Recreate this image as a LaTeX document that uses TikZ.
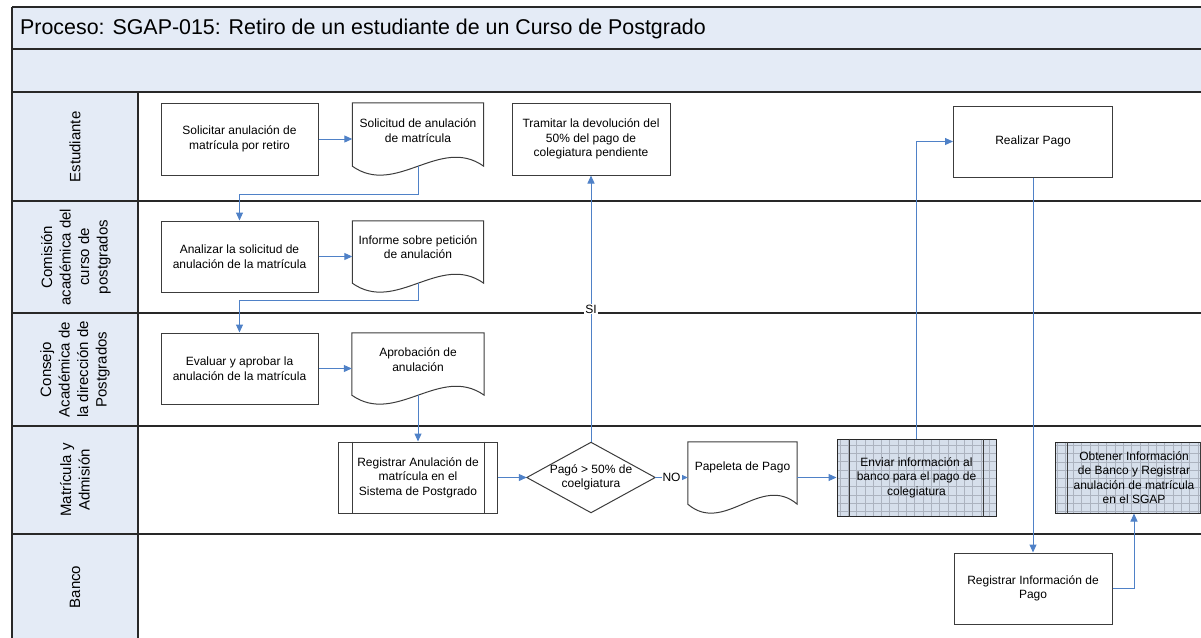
\documentclass[tikz,border=0pt]{standalone}
\usepackage{fontspec}
\setmainfont{Liberation Sans}
\usetikzlibrary{arrows.meta,calc}
\definecolor{band}{RGB}{228,235,246}
\definecolor{conn}{RGB}{79,129,199}
\definecolor{gfill}{RGB}{214,223,235}
\definecolor{gline}{RGB}{172,179,191}
\definecolor{bord}{RGB}{60,60,60}
\definecolor{frm}{RGB}{40,40,40}
\newcommand\docoutline[1]{%
  \draw[docline] (#1.north west) -- (#1.north east) -- ($(#1.south east)+(0,-9)$)
    .. controls ($(#1.south east)!0.333!(#1.south west)+(0,-40)$) and ($(#1.south west)!0.333!(#1.south east)+(0,22)$) .. ($(#1.south west)+(0,-9)$) -- cycle;}
\newcommand\predefl[2]{%
  \draw[bord, line width=1pt] ($(#1.north west)+(#2,0)$) -- ($(#1.south west)+(#2,0)$);
  \draw[bord, line width=1pt] ($(#1.north east)+(-#2,0)$) -- ($(#1.south east)+(-#2,0)$);}
\begin{document}
\begin{tikzpicture}[x=1pt,y=-1pt,
  frameline/.style={draw=frm, line width=1.3pt},
  boxtxt/.style={font=\fontsize{12}{14.5}\selectfont, align=center},
  box/.style={boxtxt, draw=bord, line width=1pt, fill=white, minimum width=157pt, minimum height=71pt, inner sep=0pt},
  docbox/.style={draw=none, minimum height=72pt, inner sep=0pt},
  docline/.style={draw=bord, line width=1pt, fill=white},
  doctext/.style={boxtxt, inner sep=0pt},
  gridbox/.style={box, fill=gfill, draw=frm,
    path picture={\draw[gline, line width=1pt, step=8.3pt] (path picture bounding box.south west) grid (path picture bounding box.north east);}},
  lane/.style={rotate=90, align=center, font=\fontsize{15}{18.5}\selectfont},
  conn/.style={draw=conn, line width=1pt, -{Triangle[length=8pt,width=7pt]}},
  lbl/.style={fill=white, inner sep=1pt, font=\fontsize{12}{14}\selectfont, text=black},
]
\clip (0,0) rectangle (1201,637);
% bands
\fill[band] (12,7) rectangle (1215,92);
\fill[band] (12,92) rectangle (138,650);
\draw[frameline] (12,7) -- (1215,7);
\draw[frameline] (12,49) -- (1215,49);
\draw[frameline] (12,92) -- (1215,92);
\draw[frameline] (12,7) -- (12,650);
\draw[frameline] (138,92) -- (138,650);
\foreach \yy in {201,313,426,534} {\draw[frameline] (12,\yy) -- (1215,\yy);}
\node[anchor=west, font=\fontsize{21.4}{25}\selectfont, inner sep=0pt] (title) at (20,29) {Proceso: SGAP-015: Retiro de un estudiante de un Curso de Postgrado};
% lane labels
\node[lane] (l1) at (75,147) {Estudiante};
\node[lane] (l2) at (76,257) {Comisión\\académica del\\curso de\\postgrados};
\node[lane] (l3) at (75,369.5) {Consejo\\Académica de\\la dirección de\\Postgrados};
\node[lane] (l4) at (75,480) {Matrícula y\\Admisión};
\node[lane] (l5) at (75,587) {Banco};
% Estudiante
\node[box, minimum height=72pt] (n1) at (239.5,139) {Solicitar anulación de\\matrícula por retiro};
\node[docbox, minimum width=131pt] (d1) at (418,139) {};
\docoutline{d1}
\node[doctext] (d1t) at (418,130.5) {Solicitud de anulación\\de matrícula};
\coordinate (d1b) at ($(d1.south)+(0,-9)$);
\node[box, minimum width=158pt, minimum height=72pt] (n5) at (591,139) {Tramitar la devolución del\\50\% del pago de\\colegiatura pendiente};
\node[box, minimum width=159pt] (n7) at (1033,141.5) {Realizar Pago};
% Comision
\node[box] (n2) at (239.5,256.5) {Analizar la solicitud de\\anulación de la matrícula};
\node[docbox, minimum width=131pt, minimum height=71pt] (d2) at (418,256.5) {};
\docoutline{d2}
\node[doctext] (d2t) at (418,247) {Informe sobre petición\\de anulación};
\coordinate (d2b) at ($(d2.south)+(0,-9)$);
% Consejo
\node[box] (n3) at (239.5,368.5) {Evaluar y aprobar la\\anulación de la matrícula};
\node[docbox, minimum width=132pt, minimum height=71pt] (d3) at (418,368.5) {};
\docoutline{d3}
\node[doctext] (d3t) at (418,359.5) {Aprobación de\\anulación};
\coordinate (d3b) at ($(d3.south)+(0,-9)$);
% Matricula
\node[box, minimum width=159pt] (n4) at (418,477.5) {Registrar Anulación de\\matrícula en el\\Sistema de Postgrado};
\predefl{n4}{14}
\node[boxtxt, minimum width=128pt, minimum height=70pt, inner sep=0pt] (dec) at (591,477.5) {Pagó > 50\% de\\coelgiatura};
\draw[bord, line width=1pt] (dec.west) -- (dec.north) -- (dec.east) -- (dec.south) -- cycle;
\node[docbox, minimum width=109pt, minimum height=71pt] (d4) at (742.5,477.5) {};
\docoutline{d4}
\node[doctext] (d4t) at (742.5,467) {Papeleta de Pago};
\node[gridbox, minimum width=159pt, minimum height=77pt] (n6) at (916.5,477.5) {Enviar información al\\banco para el pago de\\colegiatura};
\predefl{n6}{13}
\node[gridbox, minimum width=158pt] (n9) at (1134,477.5) {Obtener Información\\de Banco y Registrar\\anulación de matrícula\\en el SGAP};
\predefl{n9}{13}
% Banco
\node[box, minimum width=158pt] (n8) at (1033,588.5) {Registrar Información de\\Pago};
% connectors
\draw[conn] (n1.east) -- (d1.west |- n1.east);
\draw[conn] (d1b) -- ($(d1b)+(0,28)$) -| (n2.north);
\draw[conn] (n2.east) -- (d2.west |- n2.east);
\draw[conn] (d2b) -- ($(d2b)+(0,17)$) -| (n3.north);
\draw[conn] (n3.east) -- (d3.west |- n3.east);
\draw[conn] (d3b) -- (n4.north);
\draw[conn] (n4.east) -- (dec.west);
\draw[conn] (dec.east) -- node[lbl] (no) {NO} (d4.west);
\draw[conn] (dec.north) -- node[lbl, pos=0.5] (si) {SI} (n5.south);
\draw[conn] (d4.east) -- (n6.west);
\draw[conn] (n6.north) |- (n7.west);
\draw[conn] (n7.south) -- (n8.north);
\draw[conn] (n8.east) -| (n9.south);
\end{tikzpicture}
\end{document}
